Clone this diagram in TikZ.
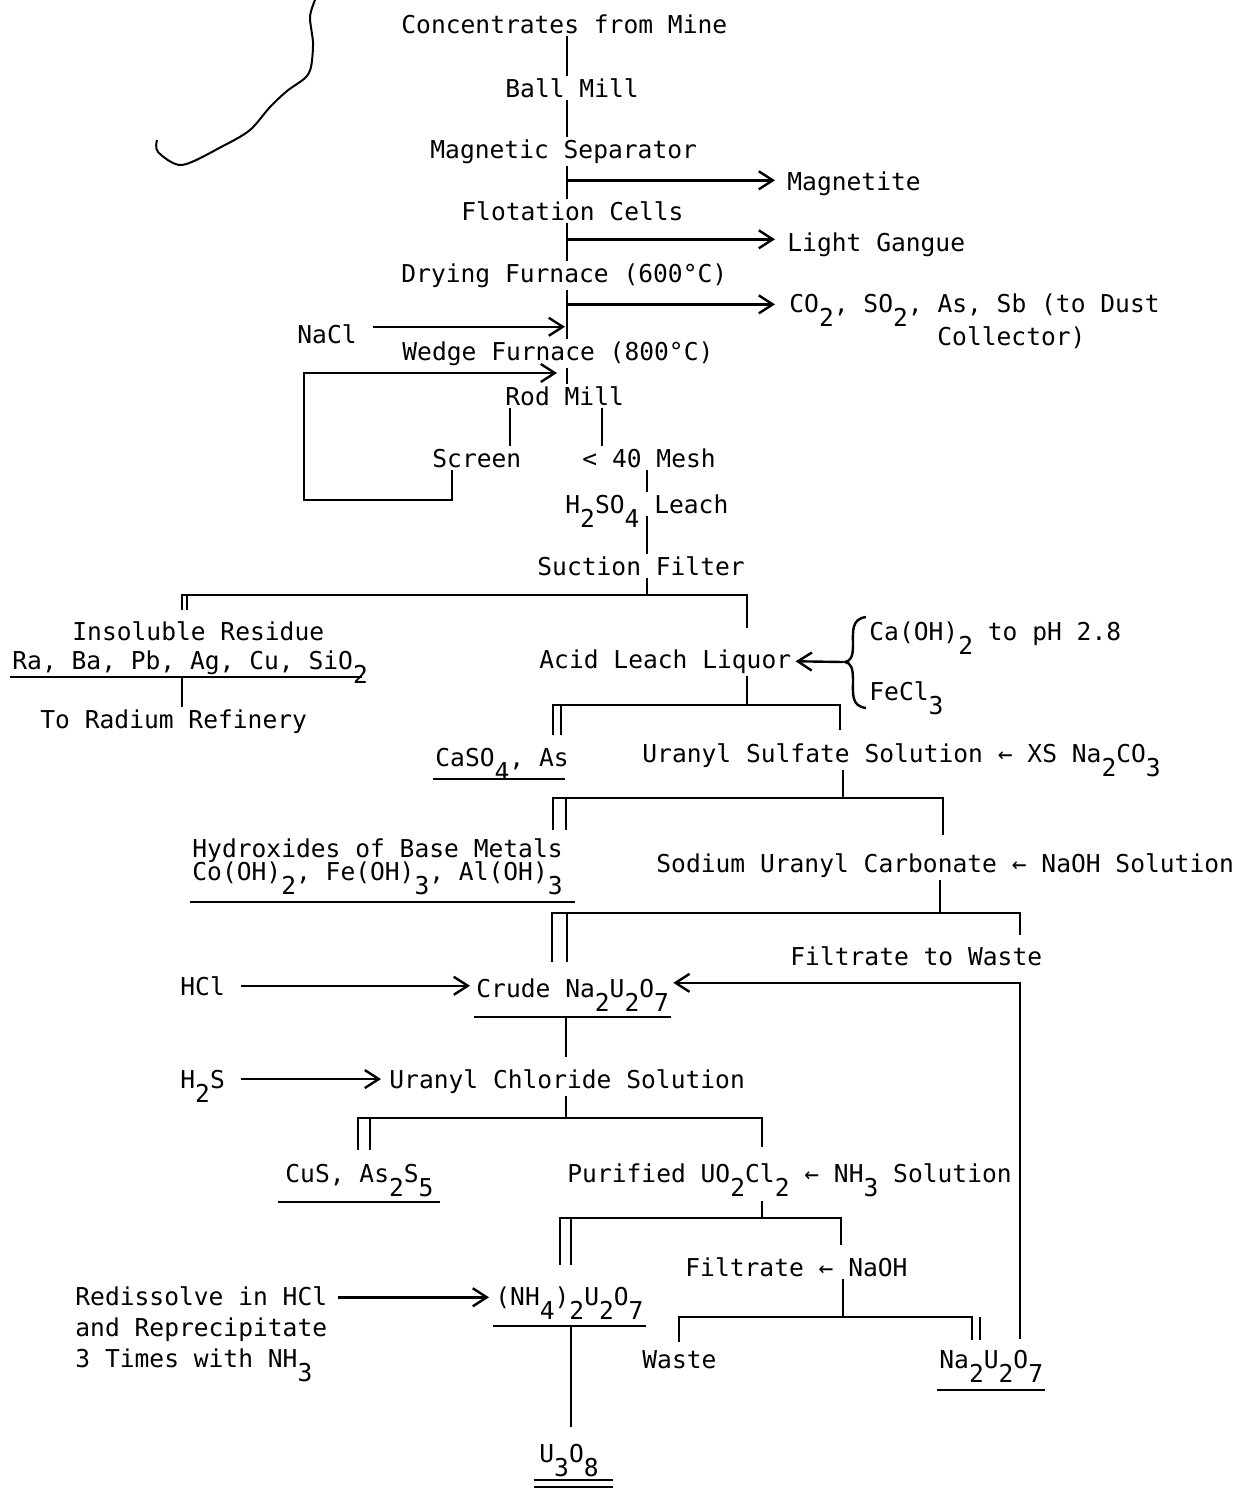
\documentclass[tikz,border=0pt]{standalone}
\usepackage{fontspec}
\setmainfont{DejaVu Sans Mono}
\usetikzlibrary{arrows.meta}

\newcommand{\dn}[1]{\raisebox{-0.6em}[0pt][0pt]{#1}}

\tikzset{
  lbl/.style={anchor=base west, inner sep=1pt, font=\fontsize{12.3}{15.5}\selectfont},
  flow/.style={line width=1.2pt},
  feed/.style={flow, -{Straight Barb[length=7pt,width=9pt]}, shorten >=1pt},
}

\begin{document}
\begin{tikzpicture}[x=0.5pt, y=-0.5pt]
    \useasboundingbox (0,0) rectangle (1241,1490);

    % stray pen stroke at top left
    \draw[line width=1pt] plot[smooth, tension=0.5] coordinates {(315,0) (310,17) (313,43) (311,67) (305,78) (287,91) (270,107) (250,130) (223,146) (182,165) (158,152) (157,140)};

    % ore dressing and roasting
    \node[lbl] (cfm) at (399,33) {Concentrates from Mine};
    \node[lbl] (ball) at (503,97) {Ball Mill};
    \node[lbl] (msep) at (428,158) {Magnetic Separator};
    \node[lbl] (flot) at (459,220) {Flotation Cells};
    \node[lbl] (dry) at (399,282) {Drying Furnace (600°C)};
    \node[lbl] (wedge) at (400,360) {Wedge Furnace (800°C)};
    \node[lbl] (nacl) at (295,343) {NaCl};
    \node[lbl] (mag) at (785,190) {Magnetite};
    \node[lbl] (gang) at (785,251) {Light Gangue};
    \node[lbl] (co2) at (787,312) {CO\dn{2}, SO\dn{2}, As, Sb (to Dust};
    \node[lbl] (coll) at (935,345) {Collector)};

    \coordinate (trunk) at (567,0);
    \draw[flow] (cfm.south -| trunk) -- (ball.north -| trunk);
    \draw[flow] (ball.south -| trunk) -- (msep.north -| trunk);
    \draw[flow] (msep.south -| trunk) -- (flot.north -| trunk);
    \draw[flow] (flot.south -| trunk) -- (dry.north -| trunk);
    \draw[flow] (dry.south -| trunk) -- (wedge.north -| trunk);
    \draw[feed, shorten >=5pt] ([yshift=1.5pt]mag.west -| trunk) -- ([yshift=1.5pt]mag.west);
    \draw[feed, shorten >=5pt] ([yshift=2.5pt]gang.west -| trunk) -- ([yshift=2.5pt]gang.west);
    \draw[feed, shorten >=6pt] (co2.west -| trunk) -- (co2.west);
    \coordinate (naclin) at ([yshift=3.5pt]nacl.east);
    \draw[feed, shorten <=7pt] (naclin) -- (naclin -| trunk);

    % grinding with screen return
    \node[lbl] (rod) at (503,405) {Rod Mill};
    \node[lbl] (scr) at (430,467) {Screen};
    \node[lbl] (mesh) at (580,467) {< 40 Mesh};
    \coordinate (scrx) at (510,0);
    \coordinate (meshx) at (602,0);
    \coordinate (loopx) at (452,0);
    \coordinate (loopcorner) at (304,500);
    \coordinate (rejoin) at (559,373);
    \draw[flow] (wedge.south -| trunk) -- (rod.north -| trunk);
    \draw[flow] (rod.south -| scrx) -- (scr.north -| scrx);
    \draw[flow] (rod.south -| meshx) -- (mesh.north -| meshx);
    \draw[feed] (scr.south -| loopx) |- (loopcorner) |- (rejoin);

    % leaching
    \node[lbl] (leach) at (563,513) {H\dn{2}SO\dn{4} Leach};
    \node[lbl] (filt) at (535,575) {Suction Filter};
    \coordinate (leachx) at (647,0);
    \draw[flow] (mesh.south -| leachx) -- (leach.north -| leachx);
    \draw[flow] (leach.south -| leachx) -- (filt.north -| leachx);

    % split 1
    \node[lbl] (insol) at (70,640) {Insoluble Residue};
    \node[lbl] (rabs) at (10,669) {Ra, Ba, Pb, Ag, Cu, SiO\dn{2}};
    \node[lbl] (radium) at (38,728) {To Radium Refinery};
    \node[lbl] (acid) at (537,668) {Acid Leach Liquor};
    \coordinate (s1) at (647,595);
    \coordinate (s1l) at (182,610);
    \coordinate (s1r) at (747,628);
    \draw[flow] (filt.south -| s1) -- (s1);
    \draw[flow] (s1l) |- (s1) -| (s1r);
    \draw[flow] ([xshift=2.5pt]s1l) -- ++(0,-15);
    \coordinate (rabsul) at ([yshift=-4pt]rabs.base west);
    \draw[flow] (rabsul) -- ([xshift=-4pt]rabsul -| rabs.base east);
    \draw[flow] (rabsul -| s1l) -- (radium.north -| s1l);

    % reagents to the liquor
    \node[lbl] (caoh) at (867,640) {Ca(OH)\dn{2} to pH 2.8};
    \node[lbl] (fecl) at (867,700) {FeCl\dn{3}};
    \draw[flow] (866,617) .. controls (851,619) and (853,632) .. (853,645)
        .. controls (853,656) and (851,661) .. (845,662)
        .. controls (851,663) and (853,668) .. (853,680)
        .. controls (853,694) and (851,706) .. (866,708);
    \coordinate (btip) at (843,662);
    \draw[feed] (btip) -- (acid.east);

    % split 2
    \node[lbl] (caso) at (433,766) {CaSO\dn{4}, As};
    \node[lbl] (uss) at (640,762) {Uranyl Sulfate Solution ← XS Na\dn{2}CO\dn{3}};
    \coordinate (s2) at (747,705);
    \coordinate (s2l) at (553,735);
    \coordinate (s2r) at (840,730);
    \draw[flow] (acid.south -| s2) -- (s2);
    \draw[flow] (s2l) |- (s2) -| (s2r);
    \draw[flow] ([xshift=4pt]s2l) -- ++(0,-30);
    \coordinate (casoul) at ([yshift=-6.5pt]caso.base west);
    \draw[flow] (casoul) -- ([xshift=-3pt]casoul -| caso.base east);

    % split 3
    \node[lbl] (hydr) at (190,857) {Hydroxides of Base Metals};
    \node[lbl] (cooh) at (190,880) {Co(OH)\dn{2}, Fe(OH)\dn{3}, Al(OH)\dn{3}};
    \node[lbl] (suc) at (654,872) {Sodium Uranyl Carbonate ← NaOH Solution};
    \coordinate (s3) at (843,798);
    \coordinate (s3l) at (553,830);
    \coordinate (s3r) at (943,835);
    \draw[flow] (uss.south -| s3) -- (s3);
    \draw[flow] (s3l) |- (s3) -| (s3r);
    \draw[flow] ([xshift=6.5pt]s3l) -- ++(0,-32);
    \coordinate (coohul) at ([yshift=-11pt]cooh.base west);
    \draw[flow] (coohul) -- ([xshift=5pt]coohul -| cooh.base east);

    % split 4 and crude diuranate
    \node[lbl] (fwaste) at (788,965) {Filtrate to Waste};
    \node[lbl] (hcl) at (178,995) {HCl};
    \node[lbl] (crude) at (474,997) {Crude Na\dn{2}U\dn{2}O\dn{7}};
    \coordinate (s4) at (940,913);
    \coordinate (s4l) at (552,962);
    \coordinate (s4r) at (1020,935);
    \draw[flow] (suc.south -| s4) -- (s4);
    \draw[flow] (s4l) |- (s4) -| (s4r);
    \draw[flow] ([xshift=7.5pt]s4l) -- ++(0,-49);
    \draw[feed, shorten <=7pt, shorten >=2pt] (hcl.east) -- (hcl.east -| crude.west);
    \coordinate (crudeul) at ([yshift=-10pt]crude.base west);
    \draw[flow] (crudeul) -- (crudeul -| crude.base east);

    % chloride solution
    \node[lbl] (hts) at (178,1088) {H\dn{2}S};
    \node[lbl] (ucs) at (387,1088) {Uranyl Chloride Solution};
    \coordinate (s5) at (566,1118);
    \coordinate (s5l) at (358,1150);
    \coordinate (s5r) at (762,1147);
    \draw[flow, shorten >=5pt] (crudeul -| s5) -- (ucs.north -| s5);
    \draw[feed, shorten <=7pt, shorten >=3pt] (hts.east) -- (hts.east -| ucs.west);

    % split 5
    \node[lbl] (cus) at (283,1182) {CuS, As\dn{2}S\dn{5}};
    \node[lbl] (puri) at (565,1182) {Purified UO\dn{2}Cl\dn{2} ← NH\dn{3} Solution};
    \draw[flow] (ucs.south -| s5) -- (s5);
    \draw[flow] (s5l) |- (s5) -| (s5r);
    \draw[flow] ([xshift=6pt]s5l) -- ++(0,-32);
    \coordinate (cusul) at ([yshift=-10pt,xshift=-2.5pt]cus.base west);
    \draw[flow] (cusul) -- ([xshift=2pt]cusul -| cus.base east);

    % split 6
    \node[lbl] (filn) at (683,1276) {Filtrate ← NaOH};
    \node[lbl, align=left, anchor=north west] (redis) at (73,1284) {Redissolve in HCl\\and Reprecipitate\\3 Times with NH\dn{3}};
    \node[lbl] (amdu) at (493,1305) {(NH\dn{4})\dn{2}U\dn{2}O\dn{7}};
    \coordinate (s6) at (762,1218);
    \coordinate (s6l) at (560,1265);
    \coordinate (s6r) at (841,1245);
    \draw[flow, shorten <=8pt] (puri.south -| s6) -- (s6);
    \draw[flow] (s6l) |- (s6) -| (s6r);
    \draw[flow] ([xshift=5.5pt]s6l) -- ++(0,-47);
    \draw[feed, shorten <=4pt, shorten >=2pt] (redis.north east |- amdu.west) -- (amdu.west);
    \coordinate (amduul) at ([yshift=-10.5pt]amdu.base west);
    \draw[flow] (amduul) -- (amduul -| amdu.base east);

    % split 7 and return of diuranate
    \node[lbl] (waste) at (640,1368) {Waste};
    \node[lbl] (nadu) at (937,1368) {Na\dn{2}U\dn{2}O\dn{7}};
    \coordinate (s7) at (843,1317);
    \coordinate (s7l) at (679,1342);
    \coordinate (s7r) at (972,1340);
    \coordinate (retx) at (1020,0);
    \draw[flow] (filn.south -| s7) -- (s7);
    \draw[flow] (s7l) |- (s7) -| (s7r);
    \draw[flow] ([xshift=4pt]s7r) -- ++(0,-23);
    \coordinate (naduul) at ([yshift=-11pt]nadu.base west);
    \draw[flow] (naduul) -- (naduul -| nadu.base east);
    \coordinate (crudein) at ([yshift=2.5pt]crude.east);
    \draw[feed, shorten <=4pt] (nadu.north -| retx) |- (crudein);

    % ignition to oxide
    \node[lbl] (uo) at (537,1462) {U\dn{3}O\dn{8}};
    \coordinate (ax) at (571,0);
    \draw[flow, shorten >=7pt] (amduul -| ax) -- (uo.north -| ax);
    \coordinate (uoul) at ([yshift=-9pt,xshift=-1.5pt]uo.base west);
    \draw[flow] (uoul) -- ([xshift=6pt]uoul -| uo.base east);
    \draw[flow] ([yshift=-3.5pt]uoul) -- ([yshift=-3.5pt,xshift=6pt]uoul -| uo.base east);
\end{tikzpicture}
\end{document}
